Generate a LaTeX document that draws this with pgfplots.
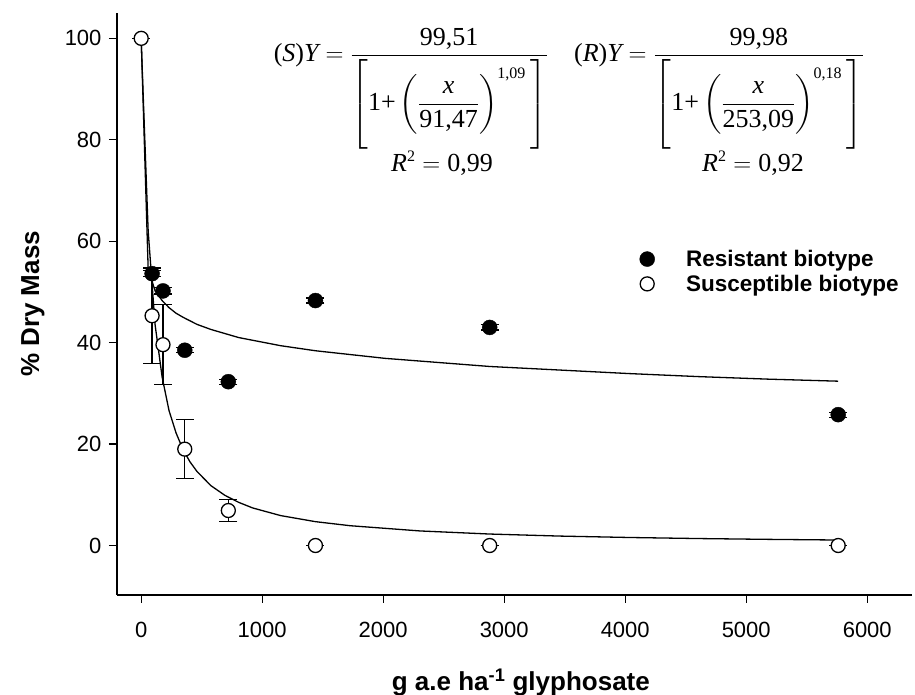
\documentclass[border=0pt]{standalone}
\usepackage{amsmath}
\usepackage{fontspec}
\setmainfont{Liberation Sans}
\newfontfamily\tnr{Liberation Serif}
\usepackage{pgfplots}
\pgfplotsset{compat=1.18}
\newcommand{\ti}[1]{\mbox{\tnr\itshape #1}}
\newcommand{\tu}[1]{\mbox{\tnr #1}}
\newcommand{\te}[1]{\mbox{\tnr\fontsize{16}{16}\selectfont #1}}

\begin{document}
\begin{tikzpicture}
\path[use as bounding box] (-117pt,-100pt) rectangle (798pt,595pt);
\begin{axis}[
  at={(0pt,0pt)}, anchor=south west,
  scale only axis, width=795pt, height=582pt,
  xmin=-200, xmax=6370, ymin=-9.76, ymax=105,
  axis x line=bottom, axis y line=left,
  axis line style={-, line width=1.4pt},
  tick align=outside, major tick length=8pt,
  tick style={line width=1.2pt, black},
  xtick={0,1000,...,6000}, ytick={0,20,...,100},
  minor tick num=0,
  scaled x ticks=false,
  /pgf/number format/assume math mode=true,
  /pgf/number format/set thousands separator={},
  tick label style={font=\fontsize{22}{26}\selectfont},
  xticklabel style={yshift=-16pt},
  yticklabel style={xshift=-4pt},
  xlabel={g a.e ha\textsuperscript{-1} glyphosate},
  ylabel={\% Dry Mass},
  label style={font=\bfseries\fontsize{26}{30}\selectfont},
  xlabel style={at={(axis description cs:0.508,-0.1495)}, anchor=center},
  ylabel style={at={(axis description cs:-0.106,0.5)}, anchor=center},
  legend style={draw=none, fill=none, at={(axis description cs:0.6566,0.5928)},
    anchor=north west, font=\bfseries\fontsize{22.5}{27}\selectfont,
    inner sep=0pt, row sep=7pt, nodes={inner sep=0pt}},
  legend cell align=left,
  legend image code/.code={\path[draw=none, fill=none] (0pt,-8pt) rectangle (47pt,8pt);
    \draw[#1] plot coordinates {(8pt,0pt)};},
]
% fitted curves
\addplot[black, line width=1.3pt, forget plot] coordinates {
  (0,99.98) (57.6,54.5) (115,50.2) (173,48.3) (230,46.9) (288,45.8)
  (346,45.0) (461,43.6) (576,42.6) (806,41.0) (1152,39.4) (1440,38.4)
  (2016,36.9) (2880,35.3) (3456,34.6) (4032,33.9) (4608,33.3)
  (5184,32.8) (5760,32.4)
};
\addplot[black, line width=1.3pt, forget plot] coordinates {
  (0,99.51) (57.6,62.0) (115,43.5) (173,33.2) (230,26.6) (288,22.2)
  (346,18.9) (403,16.5) (461,14.6) (576,11.8) (691,9.9) (806,8.5)
  (922,7.4) (1152,5.9) (1440,4.7) (1728,3.9) (2304,2.87) (2880,2.26)
  (3456,1.86) (4032,1.58) (4608,1.37) (5184,1.21) (5760,1.08)
};
% resistant biotype
\addplot[only marks, black, mark=*, mark size=7.5pt,
  error bars/.cd, y dir=both, y explicit,
  error bar style={line width=1.2pt, black},
  error mark options={rotate=90, mark size=9pt, line width=1.2pt, black}]
  table[x=x, y=y, y error=e] {
x     y     e
90    53.6  0.6
180   50.2  0.6
360   38.5  0.5
720   32.3  0.5
1440  48.3  0.5
2880  43.0  0.5
5760  25.8  0.5
};
\addlegendentry{Resistant biotype}
% susceptible biotype
\addplot[only marks, black, mark=*, mark size=7pt,
  mark options={fill=white, draw=black, line width=1.3pt},
  error bars/.cd, y dir=both, y explicit,
  error bar style={line width=1.2pt, black},
  error mark options={rotate=90, mark size=9pt, line width=1.2pt, black}]
  table[x=x, y=y, y error=e] {
x     y     e
0     100   0
90    45.3  9.4
180   39.6  7.9
360   19.0  5.8
720   6.9   2.2
1440  0     0
2880  0     0
5760  0     0
};
\addlegendentry{Susceptible biotype}
% equations
\node[anchor=base west, font=\fontsize{26}{31}\selectfont, inner sep=0pt]
  at (axis description cs:0.197,0.9158)
  {$\tu{(}\ti{S}\tu{)}\ti{Y} = \dfrac{\tu{99,51}}{\left[\vrule height 50pt depth 36pt width 0pt\tu{1+}\left(\vrule height 38pt depth 26pt width 0pt\dfrac{\ti{x}}{\tu{91,47}}\right)^{\te{1,09}}\,\right]}$};
\node[font=\fontsize{26}{31}\selectfont, inner sep=0pt]
  at (axis description cs:0.4088,0.742) {$\ti{R}^{\te{2}} = \tu{0,99}$};
\node[anchor=base west, font=\fontsize{26}{31}\selectfont, inner sep=0pt]
  at (axis description cs:0.5748,0.9158)
  {$\tu{(}\ti{R}\tu{)}\ti{Y} = \dfrac{\tu{99,98}}{\left[\vrule height 50pt depth 36pt width 0pt\tu{1+}\left(\vrule height 38pt depth 26pt width 0pt\dfrac{\ti{x}}{\tu{253,09}}\right)^{\te{0,18}}\,\right]}$};
\node[font=\fontsize{26}{31}\selectfont, inner sep=0pt]
  at (axis description cs:0.8,0.742) {$\ti{R}^{\te{2}} = \tu{0,92}$};
\end{axis}
\end{tikzpicture}
\end{document}
